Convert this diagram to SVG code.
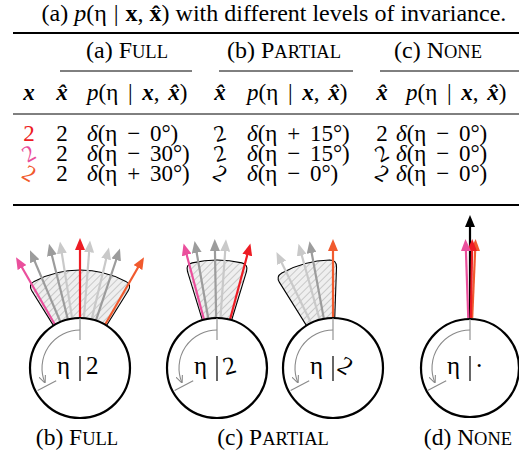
<svg xmlns="http://www.w3.org/2000/svg" width="519" height="460" viewBox="0 0 519 460">
<style>
text{font-family:"Liberation Serif","Times New Roman",serif;fill:#000}
.t{font-size:24px}
.h{font-size:24px}
.r{font-size:23px}
.c{font-size:25px}
.cap{font-size:23.5px}
.sc{font-size:18.5px}
.bi{font-weight:bold;font-style:italic}
.it{font-style:italic}
.rule{stroke:#000}
.fan{fill:url(#hatch);stroke:#000;stroke-width:1.1}
.circ{fill:#fff;stroke:#000;stroke-width:2.2}
.inner{fill:none;stroke:#8a8a8a;stroke-width:1.1}
.a{stroke-width:2.2;fill:none}
.red{stroke:#ed1c24;marker-end:url(#mRed)}
.pink{stroke:#ea4f9c;marker-end:url(#mPink)}
.orange{stroke:#f15a2e;marker-end:url(#mOrange)}
.g1{stroke:#9c9c9c;marker-end:url(#mG1)}
.g2{stroke:#c9c9c9;marker-end:url(#mG2)}
.blk{stroke:#000;marker-end:url(#mBlk)}
</style>
<defs>
<pattern id="hatch" width="5" height="5" patternUnits="userSpaceOnUse" patternTransform="rotate(45)">
<rect width="5" height="5" fill="#efefef"/>
<line x1="0" y1="0" x2="0" y2="5" stroke="#9a9a9a" stroke-width="0.9"/>
</pattern>
<marker id="mRed" markerUnits="userSpaceOnUse" markerWidth="12" markerHeight="10" refX="2" refY="5" orient="auto"><path d="M0,0L12,5L0,10z" fill="#ed1c24"/></marker>
<marker id="mPink" markerUnits="userSpaceOnUse" markerWidth="12" markerHeight="10" refX="2" refY="5" orient="auto"><path d="M0,0L12,5L0,10z" fill="#ea4f9c"/></marker>
<marker id="mOrange" markerUnits="userSpaceOnUse" markerWidth="12" markerHeight="10" refX="2" refY="5" orient="auto"><path d="M0,0L12,5L0,10z" fill="#f15a2e"/></marker>
<marker id="mG1" markerUnits="userSpaceOnUse" markerWidth="12" markerHeight="10" refX="2" refY="5" orient="auto"><path d="M0,0L12,5L0,10z" fill="#9c9c9c"/></marker>
<marker id="mG2" markerUnits="userSpaceOnUse" markerWidth="12" markerHeight="10" refX="2" refY="5" orient="auto"><path d="M0,0L12,5L0,10z" fill="#c9c9c9"/></marker>
<marker id="mBlk" markerUnits="userSpaceOnUse" markerWidth="12" markerHeight="10" refX="2" refY="5" orient="auto"><path d="M0,0L12,5L0,10z" fill="#000"/></marker>
<marker id="mArc" markerUnits="userSpaceOnUse" markerWidth="8" markerHeight="7" refX="7" refY="3.5" orient="auto"><path d="M0,0L8,3.5L0,7" fill="none" stroke="#8a8a8a" stroke-width="1.1"/></marker>
</defs>
<rect width="519" height="460" fill="#fff"/>

<g id="title">
<text class="t" x="274" y="21" text-anchor="middle">(a) <tspan class="it">p</tspan>(η <tspan dx="1">|</tspan> <tspan dx="1" font-weight="bold">x</tspan>, <tspan font-weight="bold">x̂</tspan>) with different levels of invariance.</text>
</g>

<g id="table">
<line class="rule" x1="13" y1="33" x2="519" y2="33" stroke-width="2"/>
<text class="h" x="127" y="58" text-anchor="middle">(a) F<tspan class="sc">ULL</tspan></text>
<text class="h" x="284" y="58" text-anchor="middle">(b) P<tspan class="sc">ARTIAL</tspan></text>
<text class="h" x="438" y="58" text-anchor="middle">(c) N<tspan class="sc">ONE</tspan></text>
<line class="rule" x1="60" y1="71" x2="192" y2="71" stroke-width="1"/>
<line class="rule" x1="219" y1="71" x2="353" y2="71" stroke-width="1"/>
<line class="rule" x1="380" y1="71" x2="519" y2="71" stroke-width="1"/>

<text class="r bi" x="29" y="100" text-anchor="middle">x</text>
<text class="r bi" x="62" y="100" text-anchor="middle">x̂</text>
<text class="r" x="87" y="100"><tspan class="it">p</tspan>(η <tspan dx="4">|</tspan> <tspan dx="4" class="bi">x</tspan>,<tspan dx="3"> </tspan><tspan class="bi">x̂</tspan>)</text>
<text class="r bi" x="220" y="100" text-anchor="middle">x̂</text>
<text class="r" x="247" y="100"><tspan class="it">p</tspan>(η <tspan dx="4">|</tspan> <tspan dx="4" class="bi">x</tspan>,<tspan dx="3"> </tspan><tspan class="bi">x̂</tspan>)</text>
<text class="r bi" x="382" y="100" text-anchor="middle">x̂</text>
<text class="r" x="406" y="100"><tspan class="it">p</tspan>(η <tspan dx="4">|</tspan> <tspan dx="4" class="bi">x</tspan>,<tspan dx="3"> </tspan><tspan class="bi">x̂</tspan>)</text>
<line class="rule" x1="13" y1="114" x2="519" y2="114" stroke-width="1"/>

<!-- column 1 -->
<text class="r" x="29" y="141" text-anchor="middle" style="fill:#ed1c24">2</text>
<text class="r" text-anchor="middle" style="fill:#ea4f9c" transform="translate(29 161) rotate(-30 0 -7)">2</text>
<text class="r" text-anchor="middle" style="fill:#f15a2e" transform="translate(29 181) rotate(30 0 -7)">2</text>
<!-- column 2 -->
<text class="r" x="62" y="141" text-anchor="middle">2</text>
<text class="r" x="62" y="161" text-anchor="middle">2</text>
<text class="r" x="62" y="181" text-anchor="middle">2</text>
<!-- column 3 -->
<text class="r" x="87" y="141"><tspan class="it">δ</tspan>(η <tspan dx="4">−</tspan> <tspan dx="4">0°)</tspan></text>
<text class="r" x="87" y="161"><tspan class="it">δ</tspan>(η <tspan dx="4">−</tspan> <tspan dx="4">30°)</tspan></text>
<text class="r" x="87" y="181"><tspan class="it">δ</tspan>(η <tspan dx="4">+</tspan> <tspan dx="4">30°)</tspan></text>
<!-- column 4 -->
<text class="r" text-anchor="middle" transform="translate(220 141) rotate(-15 0 -7)">2</text>
<text class="r" text-anchor="middle" transform="translate(220 161) rotate(-15 0 -7)">2</text>
<text class="r" text-anchor="middle" transform="translate(220 181) rotate(30 0 -7)">2</text>
<!-- column 5 -->
<text class="r" x="247" y="141"><tspan class="it">δ</tspan>(η <tspan dx="4">+</tspan> <tspan dx="4">15°)</tspan></text>
<text class="r" x="247" y="161"><tspan class="it">δ</tspan>(η <tspan dx="4">−</tspan> <tspan dx="4">15°)</tspan></text>
<text class="r" x="247" y="181"><tspan class="it">δ</tspan>(η <tspan dx="4">−</tspan> <tspan dx="4">0°)</tspan></text>
<!-- column 6 -->
<text class="r" x="382" y="141" text-anchor="middle">2</text>
<text class="r" text-anchor="middle" transform="translate(382 161) rotate(-30 0 -7)">2</text>
<text class="r" text-anchor="middle" transform="translate(382 181) rotate(30 0 -7)">2</text>
<!-- column 7 -->
<text class="r" x="396" y="141"><tspan class="it">δ</tspan>(η <tspan dx="4">−</tspan> <tspan dx="4">0°)</tspan></text>
<text class="r" x="396" y="161"><tspan class="it">δ</tspan>(η <tspan dx="4">−</tspan> <tspan dx="4">0°)</tspan></text>
<text class="r" x="396" y="181"><tspan class="it">δ</tspan>(η <tspan dx="4">−</tspan> <tspan dx="4">0°)</tspan></text>
<line class="rule" x1="13" y1="205" x2="519" y2="205" stroke-width="2"/>
</g>

<g id="fans">
<path class="fan" d="M53.50,325.60 L31.78,290.83 Q28.07,284.89 34.14,281.39 A98,98 0 0 1 125.86,281.39 Q131.93,284.89 128.22,290.83 L106.50,325.60 A50,50 0 0 0 53.50,325.60 Z"/>
<path class="fan" d="M202.38,320.19 L187.47,271.41 Q185.42,264.72 192.17,262.89 A108,108 0 0 1 241.83,262.89 Q248.58,264.72 246.53,271.41 L231.62,320.19 A50,50 0 0 0 202.38,320.19 Z"/>
<path class="fan" d="M306.50,325.60 L279.48,282.35 Q275.77,276.42 281.82,272.90 A108,108 0 0 1 329.78,260.05 Q336.77,260.06 336.52,267.06 L334.74,318.03 A50,50 0 0 0 306.50,325.60 Z"/>
</g>

<g id="connectors">
<!-- full -->
<line class="a g1" x1="80" y1="318" x2="80" y2="250" transform="rotate(-23 80 368)"/>
<line class="a g1" x1="80" y1="318" x2="80" y2="250" transform="rotate(-14 80 368)"/>
<line class="a g2" x1="80" y1="318" x2="80" y2="250" transform="rotate(-9 80 368)"/>
<line class="a g2" x1="80" y1="318" x2="80" y2="250" transform="rotate(4.5 80 368)"/>
<line class="a g2" x1="80" y1="318" x2="80" y2="254" transform="rotate(13.5 80 368)"/>
<line class="a g1" x1="80" y1="318" x2="80" y2="252" transform="rotate(18.5 80 368)"/>
<line class="a pink" x1="80" y1="318" x2="80" y2="250" transform="rotate(-30 80 368)"/>
<line class="a orange" x1="80" y1="318" x2="80" y2="250" transform="rotate(30 80 368)"/>
<line class="a red" x1="80" y1="318" x2="80" y2="248"/>
<!-- partial 1 -->
<line class="a g1" x1="217" y1="318" x2="217" y2="249" transform="rotate(-10 217 368)"/>
<line class="a g1" x1="217" y1="318" x2="217" y2="249" transform="rotate(-1 217 368)"/>
<line class="a g2" x1="217" y1="318" x2="217" y2="249" transform="rotate(4 217 368)"/>
<line class="a pink" x1="217" y1="318" x2="217" y2="249" transform="rotate(-15 217 368)"/>
<line class="a red" x1="217" y1="318" x2="217" y2="249" transform="rotate(15 217 368)"/>
<!-- partial 2 -->
<line class="a g2" x1="333" y1="318" x2="333" y2="249" transform="rotate(-26 333 368)"/>
<line class="a g2" x1="333" y1="318" x2="333" y2="249" transform="rotate(-15.5 333 368)"/>
<line class="a g1" x1="333" y1="318" x2="333" y2="249" transform="rotate(-10.5 333 368)"/>
<line class="a orange" x1="333" y1="318" x2="333" y2="249"/>
<!-- none -->
<line class="a blk" x1="470" y1="318" x2="470" y2="225"/>
<line class="a orange" x1="470" y1="318" x2="470" y2="249" transform="rotate(2.5 470 368)"/>
<line class="a red" x1="470" y1="318" x2="470" y2="249" transform="rotate(1 470 368)"/>
<line class="a pink" x1="470" y1="318" x2="470" y2="249" transform="rotate(-2 470 368)"/>
</g>

<g id="node-full">
<circle class="circ" cx="80" cy="368" r="50"/>
<line class="inner" x1="80" y1="318" x2="80" y2="340"/>
<path class="inner" d="M80,330 A38,38 0 0 0 44.77,382.23" marker-end="url(#mArc)"/>
<line class="inner" x1="56.16" y1="380.68" x2="37.62" y2="390.54"/>
<text class="c" x="70" y="374" text-anchor="end">η</text>
<line x1="80" y1="356" x2="80" y2="381" stroke="#000" stroke-width="1.2"/>
<text class="c" x="86" y="374">2</text>
</g>

<g id="node-partial-a">
<circle class="circ" cx="217" cy="368" r="50"/>
<line class="inner" x1="217" y1="318" x2="217" y2="340"/>
<path class="inner" d="M217,330 A38,38 0 0 0 181.77,382.23" marker-end="url(#mArc)"/>
<line class="inner" x1="193.16" y1="380.68" x2="174.62" y2="390.54"/>
<text class="c" x="207" y="374" text-anchor="end">η</text>
<line x1="217" y1="356" x2="217" y2="381" stroke="#000" stroke-width="1.2"/>
<text class="c" text-anchor="middle" transform="translate(229.5 374) rotate(-15 0 -8)">2</text>
</g>

<g id="node-partial-b">
<circle class="circ" cx="333" cy="368" r="50"/>
<line class="inner" x1="333" y1="318" x2="333" y2="340"/>
<path class="inner" d="M333,330 A38,38 0 0 0 297.77,382.23" marker-end="url(#mArc)"/>
<line class="inner" x1="309.16" y1="380.68" x2="290.62" y2="390.54"/>
<text class="c" x="323" y="374" text-anchor="end">η</text>
<line x1="333" y1="356" x2="333" y2="381" stroke="#000" stroke-width="1.2"/>
<text class="c" text-anchor="middle" transform="translate(345.5 374) rotate(30 0 -8)">2</text>
</g>

<g id="node-none">
<circle class="circ" cx="470" cy="368" r="49"/>
<line class="inner" x1="470" y1="319" x2="470" y2="340"/>
<path class="inner" d="M470,330 A38,38 0 0 0 434.77,382.23" marker-end="url(#mArc)"/>
<line class="inner" x1="446.16" y1="380.68" x2="427.62" y2="390.54"/>
<text class="c" x="460" y="374" text-anchor="end">η</text>
<line x1="470" y1="356" x2="470" y2="381" stroke="#000" stroke-width="1.2"/>
<text class="c" x="475" y="374">·</text>
</g>

<g id="captions">
<text class="cap" x="77" y="445" text-anchor="middle">(b) F<tspan class="sc">ULL</tspan></text>
<text class="cap" x="273" y="445" text-anchor="middle">(c) P<tspan class="sc">ARTIAL</tspan></text>
<text class="cap" x="468" y="445" text-anchor="middle">(d) N<tspan class="sc">ONE</tspan></text>
</g>
</svg>
